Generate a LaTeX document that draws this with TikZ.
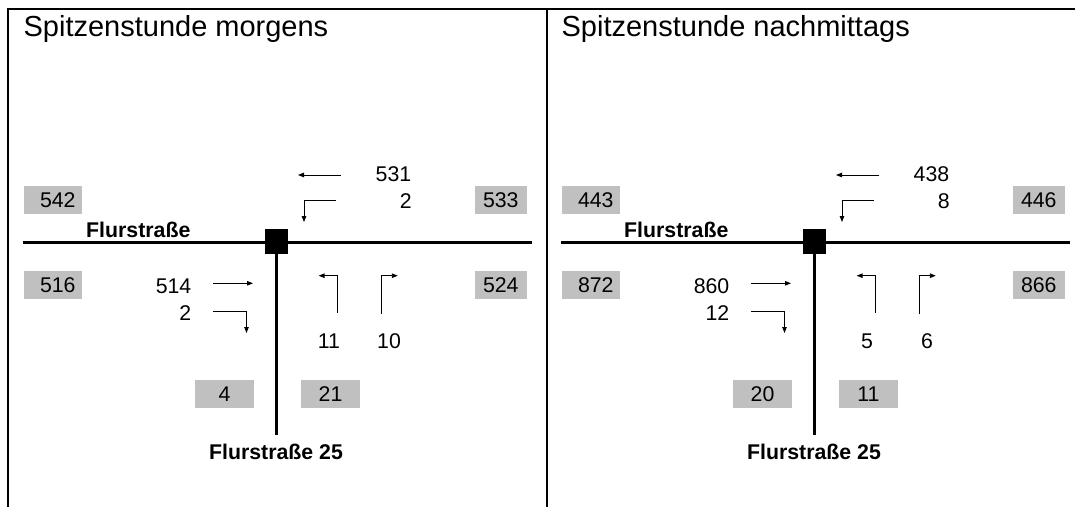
\documentclass[tikz,border=0pt]{standalone}
\usepackage{fontspec}
\setmainfont{Liberation Sans}
\usetikzlibrary{arrows.meta}

\definecolor{boxgray}{HTML}{C0C0C0}

\tikzset{
  frameline/.style={line width=2pt, line cap=rect},
  road/.style={line width=2.8pt},
  junction/.style={fill=black, minimum width=23pt, minimum height=25pt, inner sep=0pt},
  flow/.style={line width=0.9pt, -{Triangle[length=6pt,width=4.5pt]}},
  digits/.style={font=\fontsize{21.3}{25}\selectfont, text height=15.3pt, text depth=0pt},
  count/.style={digits, inner sep=0pt},
  sumbox/.style={digits, fill=boxgray, inner sep=0pt, minimum height=28.4pt},
  roadname/.style={inner sep=0pt, font=\fontsize{21.3}{25}\selectfont\bfseries},
  paneltitle/.style={inner sep=0pt, anchor=base west, font=\fontsize{29}{34}\selectfont}
}

\begin{document}
\begin{tikzpicture}[x=1pt, y=-1pt]
  \useasboundingbox (0,0) rectangle (1075,506);

  % outer frame and divider between the two peak hours
  \coordinate (fbl) at (8.3,506);
  \coordinate (ftl) at (8.3,9.3);
  \coordinate (ftr) at (1075,9.3);
  \coordinate (dtop) at (546.5,9.3);
  \coordinate (dbot) at (546.5,506);
  \draw[frameline] (fbl) -- (ftl) -- (ftr);
  \draw[frameline] (dtop) -- (dbot);

  \foreach \pn/\dx/\ttl/\wth/\wlt/\bne/\bnw/\eth/\ert/\bsw/\bea/\slt/\srt/\bsl/\bsr in {
      L/0/morgens/531/2/533/542/514/2/516/524/11/10/4/21,
      R/538/nachmittags/438/8/446/443/860/12/872/866/5/6/20/11} {
    \begin{scope}[xshift=\dx pt]
      \node[paneltitle] (\pn-title) at (23.4,36) {Spitzenstunde \ttl};

      % roads and junction
      \coordinate (\pn-rw) at (23,242.5);
      \coordinate (\pn-re) at (532,242.5);
      \coordinate (\pn-rs) at (276.5,435);
      \node[junction] (\pn-jn) at (276.5,241.5) {};
      \draw[road] (\pn-rw) -- (\pn-re);
      \draw[road] (\pn-jn.center) -- (\pn-rs);
      \node[junction] at (\pn-jn) {};

      \node[roadname] (\pn-nameW) at (138.3,229.5) {Flurstraße};
      \node[roadname] (\pn-nameS) at (276,451.7) {Flurstraße 25};

      % cross-section totals
      \node[sumbox, minimum width=57.6pt] (\pn-bnw) at (52.8,200) {\hspace*{10pt}\bnw};
      \node[sumbox, minimum width=52.4pt] (\pn-bne) at (500.8,200) {\bne};
      \node[sumbox, minimum width=57.6pt] (\pn-bsw) at (52.8,285) {\hspace*{10pt}\bsw};
      \node[sumbox, minimum width=52.4pt] (\pn-bea) at (500.8,285) {\bea};
      \node[sumbox, minimum width=59pt] (\pn-bsl) at (224.5,394.2) {\bsl};
      \node[sumbox, minimum width=59pt] (\pn-bsr) at (330.5,394.2) {\bsr};

      % turning counts
      \node[count] (\pn-nwth) at (393.5,174) {\wth};
      \node[count, anchor=east] (\pn-nwlt) at (412,201) {\wlt};
      \node[count, anchor=east] (\pn-neth) at (191.5,285.5) {\eth};
      \node[count, anchor=east] (\pn-nert) at (191.5,312.5) {\ert};
      \node[count] (\pn-nslt) at (329,340.7) {\slt};
      \node[count] (\pn-nsrt) at (389,340.7) {\srt};

      % movement arrows
      \coordinate (\pn-wth1) at (341,175);
      \coordinate (\pn-wth2) at (298,175);
      \draw[flow] (\pn-wth1) -- (\pn-wth2);

      \coordinate (\pn-wlt1) at (336,200);
      \coordinate (\pn-wlt2) at (304,200);
      \coordinate (\pn-wlt3) at (304,222);
      \draw[flow] (\pn-wlt1) -- (\pn-wlt2) -- (\pn-wlt3);

      \coordinate (\pn-eth1) at (213,283.3);
      \coordinate (\pn-eth2) at (253,283.3);
      \draw[flow] (\pn-eth1) -- (\pn-eth2);

      \coordinate (\pn-ert1) at (213,311.5);
      \coordinate (\pn-ert2) at (246.5,311.5);
      \coordinate (\pn-ert3) at (246.5,333);
      \draw[flow] (\pn-ert1) -- (\pn-ert2) -- (\pn-ert3);

      \coordinate (\pn-slt1) at (337.5,312.7);
      \coordinate (\pn-slt2) at (337.5,275.7);
      \coordinate (\pn-slt3) at (318.6,275.7);
      \draw[flow] (\pn-slt1) -- (\pn-slt2) -- (\pn-slt3);

      \coordinate (\pn-srt1) at (381.6,314);
      \coordinate (\pn-srt2) at (381.6,275.7);
      \coordinate (\pn-srt3) at (397.8,275.7);
      \draw[flow] (\pn-srt1) -- (\pn-srt2) -- (\pn-srt3);
    \end{scope}
  }
\end{tikzpicture}
\end{document}
